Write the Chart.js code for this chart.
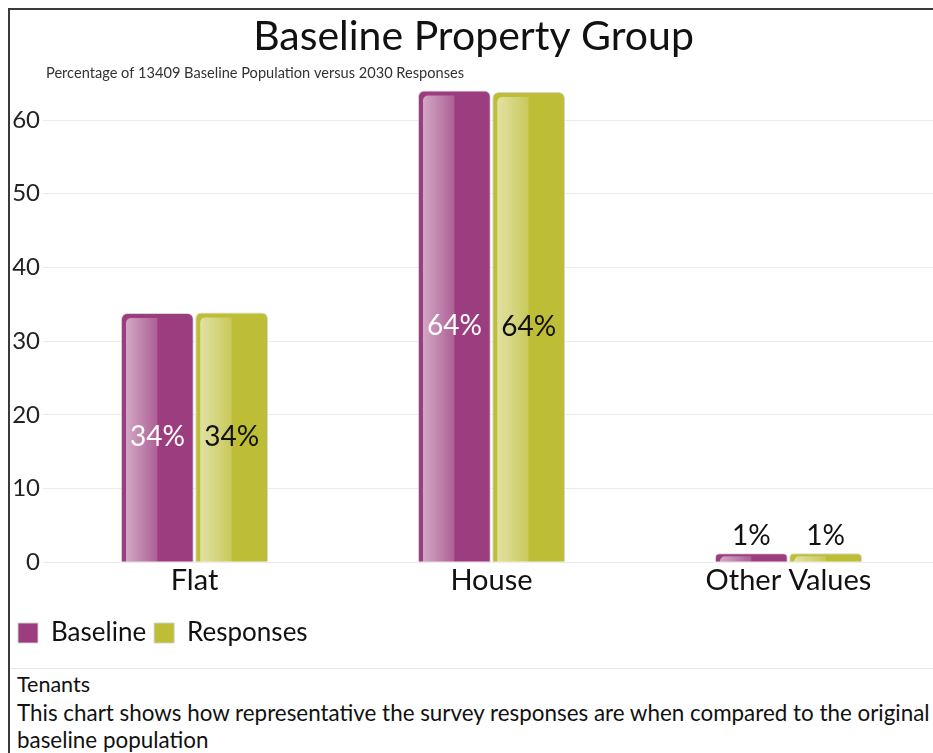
<!DOCTYPE html>
<html><head><meta charset="utf-8">
<script src="https://cdn.jsdelivr.net/npm/chart.js@4"></script>
<style>
html,body{margin:0;padding:0;background:#fff;overflow:hidden;width:933px;height:753px}
#frame{position:absolute;left:8px;top:8px;width:1000px;height:800px;border-left:2px solid #3a3a3a;border-top:2px solid #3a3a3a}
#wrap{position:absolute;left:10px;top:10px;width:927px;height:646px}
#sep{position:absolute;left:10px;top:668px;width:923px;height:0;border-top:1px solid #e6e6e6}
#notes{position:absolute;left:17px;top:672px;font-family:Lato,"Open Sans",sans-serif;color:#111;white-space:nowrap}
#notes .t{font-size:21.5px;line-height:24px}
#notes .d{font-size:22.4px;line-height:27px;margin-top:3px}
</style>
</head><body>
<div id="frame"></div>
<div id="wrap"><canvas id="c"></canvas></div>
<div id="sep"></div>
<div id="notes"><div class="t">Tenants</div><div class="d">This chart shows how representative the survey responses are when compared to the original<br>baseline population</div></div>
<script>
const categories = ['Flat', 'House', 'Other Values'];
const seriesNames = ['Baseline', 'Responses'];
const baselineValues = [33.8, 64.0, 1.2];
const responseValues = [33.9, 63.8, 1.2];
const yTickValues = [0, 10, 20, 30, 40, 50, 60];
const titleText = 'Baseline Property Group';
const subtitleText = 'Percentage of 13409 Baseline Population versus 2030 Responses';

const FONT = 'Lato, "Open Sans", sans-serif';
const colors = ['#9b3d7e', '#bdbd36'];

const glossPlugin = {
  id: 'gloss',
  afterDatasetsDraw(chart) {
    const ctx = chart.ctx;
    chart.data.datasets.forEach((ds, i) => {
      const meta = chart.getDatasetMeta(i);
      meta.data.forEach((bar) => {
        const p = bar.getProps(['x', 'y', 'base', 'width'], true);
        const left = p.x - p.width / 2;
        const h = p.base - p.y;
        const inset = h > 20 ? 5 : 3;
        const gx0 = left + 5, gx1 = left + p.width * 0.5;
        ctx.save();
        const g = ctx.createLinearGradient(gx0, 0, gx1, 0);
        g.addColorStop(0, 'rgba(255,255,255,0.55)');
        g.addColorStop(1, 'rgba(255,255,255,0.18)');
        ctx.fillStyle = g;
        ctx.beginPath();
        if (ctx.roundRect) ctx.roundRect(gx0, p.y + inset, gx1 - gx0, h - inset, [5, 0, 0, 0]);
        else ctx.rect(gx0, p.y + inset, gx1 - gx0, h - inset);
        ctx.fill();
        ctx.restore();
      });
    });
  }
};

const labelPlugin = {
  id: 'valueLabels',
  afterDatasetsDraw(chart) {
    const ctx = chart.ctx;
    ctx.save();
    ctx.font = '28px ' + FONT;
    ctx.textAlign = 'center';
    ctx.textBaseline = 'middle';
    chart.data.datasets.forEach((ds, i) => {
      const meta = chart.getDatasetMeta(i);
      meta.data.forEach((bar, j) => {
        const p = bar.getProps(['x', 'y', 'base'], true);
        const txt = Math.round(ds.data[j]) + '%';
        const h = p.base - p.y;
        if (h > 40) {
          ctx.fillStyle = i === 0 ? '#ffffff' : '#111111';
          ctx.fillText(txt, p.x, (p.y + p.base) / 2);
        } else {
          ctx.fillStyle = '#111111';
          ctx.fillText(txt, p.x, p.y - 17);
        }
      });
    });
    ctx.restore();
  }
};

const subtitlePlugin = {
  id: 'subtitleLeft',
  afterDraw(chart) {
    const ctx = chart.ctx;
    ctx.save();
    ctx.font = '14.6px ' + FONT;
    ctx.fillStyle = '#333';
    ctx.textAlign = 'left';
    ctx.textBaseline = 'middle';
    ctx.fillText(subtitleText, chart.chartArea.left, 63);
    ctx.restore();
  }
};

new Chart(document.getElementById('c'), {
  type: 'bar',
  data: {
    labels: categories,
    datasets: [
      { label: seriesNames[0], data: baselineValues, backgroundColor: colors[0] },
      { label: seriesNames[1], data: responseValues, backgroundColor: colors[1] }
    ]
  },
  options: {
    responsive: true,
    maintainAspectRatio: false,
    animation: false,
    datasets: {
      bar: {
        categoryPercentage: 0.5,
        barPercentage: 0.98,
        borderRadius: 6,
        borderSkipped: 'bottom',
        borderWidth: 1,
        borderColor: 'rgba(210,210,210,0.9)'
      }
    },
    layout: { padding: 0 },
    plugins: {
      title: {
        display: true,
        text: titleText,
        color: '#111',
        font: { family: FONT, size: 41, weight: 'normal' },
        padding: { top: 2, bottom: 22 }
      },
      legend: {
        display: true,
        position: 'bottom',
        align: 'start',
        labels: {
          color: '#111',
          font: { family: FONT, size: 26 },
          boxWidth: 20,
          boxHeight: 20,
          padding: 8
        }
      },
      tooltip: { enabled: false }
    },
    scales: {
      x: {
        grid: { display: false, drawTicks: false },
        border: { display: false },
        afterFit(scale) { scale.height += 13; },
        ticks: { color: '#111', font: { family: FONT, size: 29 }, padding: 1 }
      },
      y: {
        min: 0,
        max: 65,
        afterFit(scale) { scale.width = 36; },
        border: { display: false },
        grid: {
          color: ctx => (ctx.tick && yTickValues.includes(ctx.tick.value)) ? '#ebebeb' : 'rgba(0,0,0,0)',
          tickLength: 3
        },
        ticks: {
          stepSize: 10,
          color: '#222',
          font: { family: FONT, size: 24 },
          padding: 3,
          callback: v => yTickValues.includes(v) ? String(v) : ''
        }
      }
    }
  },
  plugins: [glossPlugin, labelPlugin, subtitlePlugin]
});
</script>
</body></html>
